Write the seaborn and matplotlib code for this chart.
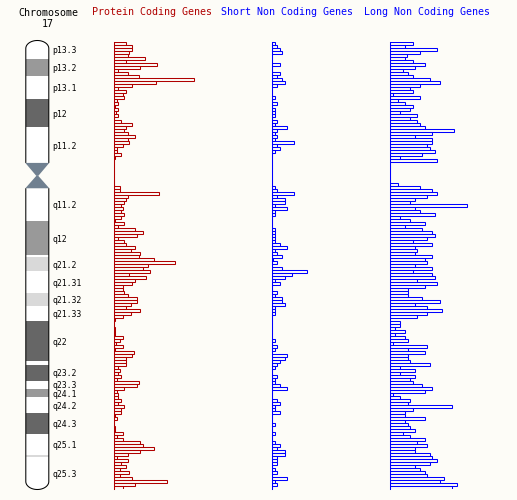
import numpy as np
import pandas as pd
import matplotlib
matplotlib.use("Agg")
import matplotlib.pyplot as plt
import seaborn as sns
from matplotlib.path import Path
from matplotlib.patches import PathPatch
from matplotlib.transforms import blended_transform_factory

# ---------------- data ----------------
chrom_label = "17"
chrom_len = 83.26  # Mb

band_names = ["p13.3", "p13.2", "p13.1", "p12", "p11.2", "p11.1", "q11.1", "q11.2",
              "q12", "q21.1", "q21.2", "q21.31", "q21.32", "q21.33", "q22", "q23.1",
              "q23.2", "q23.3", "q24.1", "q24.2", "q24.3", "q25.1", "q25.2", "q25.3"]
band_start = [0.0, 3.4, 6.5, 10.8, 16.1, 22.7, 25.1, 27.4, 33.5, 39.8, 40.2, 42.8,
              46.8, 49.3, 52.1, 59.5, 60.2, 63.1, 64.6, 66.2, 69.1, 72.9, 76.8, 77.2]
band_end = [3.4, 6.5, 10.8, 16.1, 22.7, 25.1, 27.4, 33.5, 39.8, 40.2, 42.8, 46.8,
            49.3, 52.1, 59.5, 60.2, 63.1, 64.6, 66.2, 69.1, 72.9, 76.8, 77.2, 83.26]
band_stain = ["gneg", "gpos50", "gneg", "gpos75", "gneg", "acen", "acen", "gneg",
              "gpos50", "gneg", "gpos25", "gneg", "gpos25", "gneg", "gpos75", "gneg",
              "gpos75", "gneg", "gpos50", "gneg", "gpos75", "gneg", "gpos25", "gneg"]
labelled_bands = ["p13.3", "p13.2", "p13.1", "p12", "p11.2", "q11.2", "q12", "q21.2",
                  "q21.31", "q21.32", "q21.33", "q22", "q23.2", "q23.3", "q24.1",
                  "q24.2", "q24.3", "q25.1", "q25.3"]

protein_coding = (
    [12, 18, 18, 15, 14, 31, 12, 43, 26, 4, 14, 25, 80, 42, 18, 4, 12, 9, 10, 3,
     4, 1, 4, 2, 4, 0, 7, 18, 12, 10, 14, 21, 14, 15, 9, 3, 3, 7, 1]
    + [0, 0, 0, 0, 0, 0, 0, 0, 0]
    + [6, 6, 45, 14, 12, 10, 7, 9, 7, 10, 7, 1, 10, 4, 21, 29, 23, 4, 10, 12,
       21, 17, 26, 25, 40, 61, 34, 29, 36, 15, 32, 21, 18, 9, 9, 10, 14, 23, 23, 17,
       12, 26, 17, 9, 1, 0, 0, 1, 1, 1, 9]
    + [6, 2, 9, 1, 20, 18, 12, 12, 12, 4, 6, 4, 7, 3, 25, 23, 10, 3, 4, 4,
       7, 4, 10, 7, 7, 1, 3, 0, 0, 1, 1, 9, 3, 9, 26, 29, 40, 26, 14, 3,
       14, 7, 12, 6, 15, 6, 18, 53, 21, 9]
)
short_noncoding = (
    [3, 5, 8, 10, 0, 0, 0, 8, 0, 0, 8, 5, 10, 13, 5, 0, 0, 0, 3, 0,
     5, 0, 3, 3, 3, 0, 5, 3, 15, 5, 3, 5, 3, 22, 5, 8, 3, 0, 0]
    + [0, 0, 0, 0, 0, 0, 0, 0, 0]
    + [3, 5, 22, 5, 13, 13, 3, 15, 3, 3, 0, 0, 0, 0, 3, 3, 3, 3, 3, 8,
       15, 3, 5, 10, 1, 5, 0, 10, 35, 20, 13, 3, 8, 0, 0, 5, 3, 10, 10, 13,
       3, 3, 3, 0, 0, 0, 0, 0, 0, 0, 0]
    + [3, 0, 5, 3, 0, 15, 13, 8, 5, 3, 0, 0, 5, 3, 3, 8, 15, 0, 0, 0,
       5, 8, 3, 3, 8, 0, 0, 0, 3, 0, 0, 3, 0, 0, 3, 8, 5, 13, 13, 5,
       5, 5, 0, 3, 5, 0, 15, 3, 5, 0]
)
long_noncoding = (
    [23, 15, 47, 30, 17, 15, 23, 35, 25, 13, 18, 23, 40, 50, 30, 20, 23, 3, 30, 8,
     15, 23, 20, 10, 27, 20, 27, 30, 35, 64, 42, 25, 42, 42, 37, 40, 45, 32, 10, 47]
    + [0, 0, 0, 0, 0, 0, 0]
    + [8, 30, 42, 47, 37, 25, 20, 77, 25, 30, 45, 10, 20, 35, 15, 32, 42, 45, 37, 23,
       42, 25, 27, 25, 42, 35, 37, 25, 42, 23, 42, 45, 27, 47, 35, 18, 18, 18, 32, 50,
       25, 37, 52, 37, 27, 0, 10, 10, 5, 15, 5, 15, 18]
    + [3, 37, 18, 35, 18, 18, 20, 40, 10, 25, 10, 25, 20, 23, 32, 42, 35, 3, 10, 20,
       18, 62, 23, 15, 15, 35, 15, 18, 20, 25, 13, 20, 35, 27, 37, 25, 25, 40, 42, 47,
       40, 25, 30, 35, 37, 54, 50, 67, 62]
)

# ---------------- style ----------------
BG = "#fdfcf7"
RED = "#b00000"
BLUE = "#0000ff"
STAIN_COLORS = {"gneg": "#ffffff", "gpos25": "#d9d9d9", "gpos50": "#999999",
                "gpos75": "#666666", "acen": "#708090"}
FONT = "DejaVu Sans Mono"
FS = 7.2
FS_BAND = 5.9
LW = 0.75

W, H = 517, 500
fig = plt.figure(figsize=(W / 100, H / 100), dpi=100, facecolor=BG)


def px_axes(x0, y0, w, h):
    ax = fig.add_axes([x0 / W, 1 - (y0 + h) / H, w / W, h / H])
    ax.set_facecolor("none")
    return ax


# ---------------- bar columns ----------------
nb = len(protein_coding)
bins = np.arange(nb)
BIN_TOP = 42.3
BIN_PX = 3.0


def bar_column(x0, vals, color, maxw):
    ax = px_axes(x0, BIN_TOP, maxw, BIN_PX * nb)
    df = pd.DataFrame({"bin": bins, "n": vals})
    sns.barplot(data=df, x="n", y="bin", orient="y", native_scale=True, width=1.0,
                fill=False, color=color, saturation=1, linewidth=LW,
                errorbar=None, ax=ax)
    for p in ax.patches:
        p.set_edgecolor(color)
        p.set_facecolor("none")
        p.set_linewidth(LW)
    ax.set_xlim(0, maxw)
    ax.set_ylim(nb - 0.5, -0.5)
    for s in ["top", "right", "bottom"]:
        ax.spines[s].set_visible(False)
    ax.spines["left"].set_color(color)
    ax.spines["left"].set_linewidth(LW)
    ax.set_xticks([])
    ax.set_yticks([])
    ax.set_xlabel("")
    ax.set_ylabel("")
    return ax


bar_column(113.8, protein_coding, RED, 110)
bar_column(271.8, short_noncoding, BLUE, 100)
bar_column(389.8, long_noncoding, BLUE, 110)

# ---------------- ideogram ----------------
ax_id = px_axes(25.8, 40.5, 23, 449)
ax_id.set_xlim(0, 1)
ax_id.set_ylim(chrom_len, 0)
ax_id.axis("off")

ry = 8 * chrom_len / 449.0
acen_idx = [i for i, s in enumerate(band_stain) if s == "acen"]
cen_top = band_start[acen_idx[0]]
cen_mid = band_end[acen_idx[0]]
cen_bot = band_end[acen_idx[-1]]

th = np.linspace(np.pi, 0, 40)
p_verts = [(0, cen_top), (0, ry)] + [(0.5 + 0.5 * np.cos(t), ry - ry * np.sin(t)) for t in th] + [(1, cen_top)]
th2 = np.linspace(np.pi, 2 * np.pi, 40)
q_verts = [(0, cen_bot), (0, chrom_len - ry)] + \
    [(0.5 + 0.5 * np.cos(t), chrom_len - ry - ry * np.sin(t)) for t in th2] + [(1, cen_bot)]

clips = []
for verts in (p_verts, q_verts):
    clip = PathPatch(Path(verts + [verts[0]]), transform=ax_id.transData)
    clips.append(clip)

for name, s, e, st in zip(band_names, band_start, band_end, band_stain):
    if st == "acen":
        continue
    clip = clips[0] if e <= cen_top else clips[1]
    bc = ax_id.bar(0.5, e - s, bottom=s, width=1.0, color=STAIN_COLORS[st],
                   linewidth=0)
    for p in bc.patches:
        p.set_clip_path(clip)

# centromere triangles
d = 1.0 / 23
ax_id.fill([-0.02, 1.02, 0.5 + d, 0.5 - d], [cen_top, cen_top, cen_mid, cen_mid],
           color=STAIN_COLORS["acen"], linewidth=0, clip_on=False)
ax_id.fill([0.5 - d, 0.5 + d, 1.02, -0.02], [cen_mid, cen_mid, cen_bot, cen_bot],
           color=STAIN_COLORS["acen"], linewidth=0, clip_on=False)

# outlines
for verts in (p_verts, q_verts):
    ax_id.add_patch(PathPatch(Path(verts), fill=False, edgecolor="black",
                              linewidth=LW, clip_on=False))

# band labels
trans = blended_transform_factory(ax_id.transAxes, ax_id.transData)
for name, s, e in zip(band_names, band_start, band_end):
    if name in labelled_bands:
        ax_id.text(1.17, (s + e) / 2, name, transform=trans, ha="left",
                   va="center_baseline", fontsize=FS_BAND, family=FONT,
                   color="black")

# ---------------- header ----------------
fig.text(48 / W, 1 - 7.7 / H, "Chromosome\n" + chrom_label, ha="center", va="top",
         multialignment="center", linespacing=1.14,
         fontsize=FS, family=FONT, color="black")
fig.text(92 / W, 1 - 15.4 / H, "Protein Coding Genes", ha="left", va="baseline",
         fontsize=FS, family=FONT, color=RED)
fig.text(221 / W, 1 - 15.4 / H, "Short Non Coding Genes", ha="left", va="baseline",
         fontsize=FS, family=FONT, color=BLUE)
fig.text(364 / W, 1 - 15.4 / H, "Long Non Coding Genes", ha="left", va="baseline",
         fontsize=FS, family=FONT, color=BLUE)

fig.savefig("out.png", dpi=100, facecolor=BG)
